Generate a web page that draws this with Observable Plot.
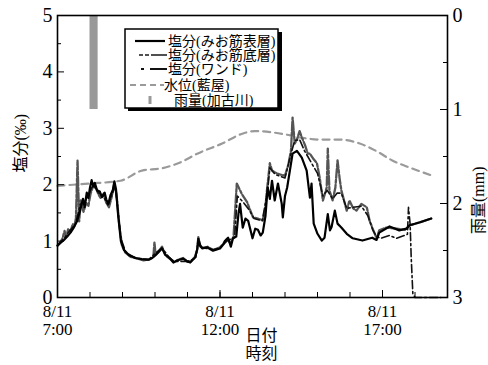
<!DOCTYPE html>
<html><head><meta charset="utf-8">
<script src="https://cdn.jsdelivr.net/npm/d3@7"></script>
<script src="https://cdn.jsdelivr.net/npm/@observablehq/plot@0.6"></script>
<style>
html,body{margin:0;padding:0;background:#fff;}
#wrap{position:relative;width:488px;height:365px;}
#wrap svg text{font-family:"Liberation Serif","Times New Roman","Noto Sans CJK JP",serif;}
#wrap svg text.cjk{font-family:"Noto Sans CJK JP",sans-serif;}
</style></head>
<body><div id="wrap"></div>
<script>
// ---- data (hours since midnight, 8/11) ----
const surfT = [7.00,7.10,7.20,7.30,7.40,7.50,7.60,7.70,7.78,7.84,7.90,7.95,8.00,8.05,8.10,8.15,8.22,8.30,8.36,8.45,8.50,8.56,8.63,8.70,8.75,8.80,8.87,8.95,9.05,9.20,9.40,9.60,9.80,9.92,10.00,10.10,10.22,10.32,10.45,10.56,10.70,10.87,11.00,11.08,11.23,11.30,11.33,11.38,11.45,11.60,11.79,12.00,12.10,12.15,12.25,12.33,12.40,12.50,12.56,12.61,12.70,12.78,12.86,13.00,13.08,13.17,13.25,13.32,13.40,13.47,13.54,13.60,13.69,13.78,13.90,13.93,14.00,14.06,14.15,14.24,14.36,14.52,14.67,14.76,14.82,14.88,15.00,15.13,15.22,15.31,15.38,15.44,15.53,15.62,15.74,15.90,16.08,16.39,16.69,16.82,16.90,17.21,17.52,17.74,17.83,18.13,18.50];
const surfV = [0.92,0.97,1.02,1.08,1.15,1.24,1.35,1.55,1.75,1.60,1.86,1.76,1.95,2.08,1.97,2.03,1.90,1.88,1.78,1.86,1.74,1.66,1.82,1.90,2.06,1.92,1.45,1.00,0.84,0.75,0.70,0.68,0.67,0.70,0.74,0.80,0.87,0.76,0.70,0.62,0.66,0.69,0.64,0.62,0.71,0.85,1.04,0.92,0.87,0.89,0.83,0.87,0.94,1.00,1.06,0.90,1.05,1.08,1.48,1.66,1.24,1.40,1.36,1.05,1.22,1.20,1.10,1.15,1.45,1.95,1.75,2.07,1.72,2.02,1.66,1.42,1.80,1.95,2.25,2.55,2.60,2.48,2.25,1.77,2.02,1.31,1.13,1.01,1.06,1.48,1.19,1.25,1.54,1.31,1.24,1.13,1.05,1.01,1.06,1.02,1.15,1.26,1.19,1.22,1.28,1.33,1.40];

const botT = [7.00,7.08,7.15,7.22,7.27,7.33,7.40,7.46,7.52,7.57,7.61,7.66,7.72,7.80,7.88,7.95,8.02,8.10,8.18,8.26,8.34,8.42,8.50,8.58,8.66,8.75,8.82,8.90,8.98,9.08,9.25,9.45,9.65,9.85,9.95,9.98,10.02,10.12,10.22,10.32,10.45,10.58,10.72,10.87,11.00,11.10,11.23,11.30,11.34,11.40,11.50,11.62,11.80,12.00,12.12,12.22,12.32,12.42,12.52,12.67,12.83,13.01,13.17,13.32,13.40,13.44,13.53,13.60,13.69,13.85,14.00,14.10,14.18,14.24,14.30,14.36,14.45,14.52,14.62,14.70,14.76,14.88,14.98,15.07,15.16,15.24,15.28,15.31,15.37,15.47,15.55,15.62,15.68,15.74,15.90,15.99,16.10,16.20,16.35,16.51,16.60,16.69,16.82,16.90,17.12,17.43,17.70,17.83,18.13,18.50];
const botV = [0.92,0.98,1.04,1.18,1.08,1.22,1.16,1.30,1.26,1.40,2.43,1.35,1.72,1.52,1.68,1.62,1.84,1.98,1.94,1.82,1.76,1.84,1.68,1.60,1.78,2.02,1.82,1.30,0.92,0.80,0.72,0.69,0.66,0.68,0.72,0.98,0.76,0.82,0.90,0.75,0.69,0.63,0.67,0.70,0.63,0.64,0.72,0.86,1.07,0.90,0.88,0.90,0.84,0.89,0.96,1.04,0.96,1.08,2.02,1.84,1.69,1.42,1.40,1.37,1.60,1.84,2.38,2.25,2.22,2.18,2.16,2.35,2.60,3.19,2.73,2.80,2.95,2.84,2.70,2.55,2.55,2.45,2.38,2.13,1.72,1.85,1.95,2.64,1.90,1.72,1.95,2.43,2.10,1.90,1.54,1.72,1.58,1.54,1.66,1.60,1.37,1.24,1.05,1.19,1.24,1.22,1.20,1.28,1.33,1.40];

const wandT = [7.00,7.20,7.40,7.55,7.62,7.70,7.85,8.00,8.10,8.25,8.40,8.55,8.70,8.76,8.85,8.95,9.10,9.40,9.80,10.00,10.22,10.45,10.60,11.00,11.25,11.34,11.45,11.80,12.00,12.25,12.45,12.54,12.70,12.90,13.05,13.30,13.46,13.54,13.70,14.00,14.18,14.30,14.45,14.60,14.80,15.00,15.16,15.30,15.47,15.60,15.74,15.90,16.10,16.35,16.55,16.70,16.82,16.95,17.21,17.43,17.67,17.76,17.80,17.85,17.89,17.93,18.00,18.80];
const wandV = [0.92,1.05,1.20,1.30,1.45,1.65,1.70,1.88,2.00,1.86,1.80,1.64,1.85,2.00,1.60,1.05,0.80,0.70,0.67,0.78,0.88,0.70,0.64,0.64,0.70,1.00,0.88,0.85,0.88,1.02,1.06,1.80,1.70,1.55,1.40,1.36,1.90,2.30,2.18,2.12,2.55,2.78,2.80,2.60,2.40,2.20,1.80,1.90,1.75,1.85,1.85,1.58,1.60,1.62,1.45,1.20,1.08,1.05,1.10,1.05,1.10,1.12,1.60,1.30,0.71,0.07,0.00,0.00];

const levelT = [7.0,7.95,8.93,9.6,10.2,10.8,11.3,12.06,12.67,13.07,13.93,14.45,15.07,15.68,16.3,16.8,17.3,17.9,18.53];
const levelV = [1.98,2.02,2.07,2.25,2.29,2.40,2.55,2.73,2.90,2.95,2.90,2.84,2.80,2.80,2.73,2.60,2.43,2.29,2.16];

const rainStart = [8.0];
const rainEnd = [8.25];
const rainMm = [1.0];

const yTicks = [0,1,2,3,4,5];
const rainTicks = [0,1,2,3];
const xLabelHours = [7,12,17];
const hourTicks = [7,8,9,10,11,12,13,14,15,16,17,18,19];
const legendLabels = ["塩分(みお筋表層)","塩分(みお筋底層)","塩分(ワンド)","水位(藍屋)","雨量(加古川)"];

// ---- helpers ----
const T = h => new Date(2000, 7, 11, 0, Math.round(h * 60));
const rainToY = r => 5 - r * 5 / 3;
const yToRain = y => (5 - y) * 3 / 5;
const series = (ts, vs) => ts.map((t, i) => ({t: T(t), v: vs[i]}));

const W = 488, H = 365, mL = 57, mR = 41, mT = 15, mB = 68;
const pw = W - mL - mR, ph = H - mT - mB;
const yMinor = d3.range(0.5, 5, 1);
const rainMinor = [0.5,1.5,2.5].map(rainToY);

const chart = Plot.plot({
  width: W, height: H,
  marginLeft: mL, marginRight: mR, marginTop: mT, marginBottom: mB,
  x: {type: "time", domain: [T(7), T(19)]},
  y: {domain: [0, 5]},
  style: {fontSize: "17px", color: "black", background: "white"},
  marks: [
    Plot.rectY(rainMm.map((m, i) => i), {x1: i => T(rainStart[i]), x2: i => T(rainEnd[i]), y1: () => rainToY(0), y2: i => rainToY(rainMm[i]), fill: "#999"}),
    Plot.line(series(levelT, levelV), {x: "t", y: "v", stroke: "#9a9a9a", strokeWidth: 2.2, strokeDasharray: "7,5", curve: "monotone-x"}),
    Plot.line(series(botT, botV), {x: "t", y: "v", stroke: "#555", strokeWidth: 2.3, strokeDasharray: "9,2,3,2"}),
    Plot.line(series(wandT, wandV), {x: "t", y: "v", stroke: "#111", strokeWidth: 1.6, strokeDasharray: "8,3,2,3"}),
    Plot.line(series(surfT, surfV), {x: "t", y: "v", stroke: "black", strokeWidth: 2.2}),
    // inward ticks
    Plot.tickY(yTicks, {y: d => d, insetRight: pw - 7, stroke: "black", strokeWidth: 1}),
    Plot.tickY(yMinor, {y: d => d, insetRight: pw - 4, stroke: "black", strokeWidth: 1}),
    Plot.tickY(rainTicks.map(rainToY), {y: d => d, insetLeft: pw - 7, stroke: "black", strokeWidth: 1}),
    Plot.tickY(rainMinor, {y: d => d, insetLeft: pw - 4, stroke: "black", strokeWidth: 1}),
    Plot.tickX(hourTicks.map(T), {x: d => d, insetTop: ph - 5, stroke: "black", strokeWidth: 1}),
    Plot.tickX(xLabelHours.map(T), {x: d => d, insetTop: ph - 7, stroke: "black", strokeWidth: 1}),
    Plot.frame({stroke: "black", strokeWidth: 1.6}),
    Plot.axisY({ticks: yTicks, tickFormat: d => String(d), tickSize: 0, tickPadding: 5, label: null, fontSize: 20}),
    Plot.axisY({anchor: "right", ticks: rainTicks.map(rainToY), tickFormat: d => String(Math.round(yToRain(d))), tickSize: 0, tickPadding: 5, label: null, fontSize: 20}),
    Plot.axisX({ticks: xLabelHours.map(T), tickFormat: d => `8/11\n${d.getHours()}:00`, tickSize: 0, tickPadding: 7, label: null, fontSize: 17, lineHeight: 1.05}),
    Plot.text(["日付\n時刻"], {frameAnchor: "bottom", dx: 9, dy: 31, lineAnchor: "top", fontSize: 16, lineHeight: 1.12, className: "cjk"}),
    Plot.text(["塩分(‰)"], {frameAnchor: "left", dx: -37, dy: 16, rotate: -90, fontSize: 16}),
    Plot.text(["雨量(mm)"], {frameAnchor: "right", dx: 31, dy: 10, rotate: -90, fontSize: 16})
  ]
});
const wrap = document.getElementById("wrap");
wrap.appendChild(chart);
d3.select(chart).selectAll("text").filter(function(){ return this.textContent.includes("日付"); }).attr("class", "cjk");

// ---- legend overlay ----
const ns = "http://www.w3.org/2000/svg";
const lg = document.createElementNS(ns, "svg");
lg.setAttribute("width", W); lg.setAttribute("height", H);
lg.setAttribute("style", "position:absolute;left:0;top:0;pointer-events:none");
const sel = d3.select(lg);
sel.append("rect").attr("x", 128).attr("y", 32).attr("width", 154).attr("height", 79).attr("fill", "black");
sel.append("rect").attr("x", 125).attr("y", 29).attr("width", 153).attr("height", 79).attr("fill", "white").attr("stroke", "black").attr("stroke-width", 1.5);
const rowsY = [41, 55, 69, 85, 100];
const samples = [
  {x1: 135, x2: 165, stroke: "black", w: 2.2, dash: null},
  {x1: 139, x2: 167, stroke: "#505050", w: 2.2, dash: "4,2,4,2,16"},
  {x1: 141, x2: 167, stroke: "#111", w: 2, dash: "3,6,20"},
  {x1: 130, x2: 164, stroke: "#9a9a9a", w: 2, dash: "6,4"},
];
samples.forEach((s, i) => {
  const l = sel.append("line").attr("x1", s.x1).attr("x2", s.x2).attr("y1", rowsY[i]).attr("y2", rowsY[i])
    .attr("stroke", s.stroke).attr("stroke-width", s.w);
  if (s.dash) l.attr("stroke-dasharray", s.dash);
});
sel.append("rect").attr("x", 148.5).attr("y", rowsY[4] - 4).attr("width", 3).attr("height", 8).attr("fill", "#999");
const textX = [168, 168, 168, 164, 174];
legendLabels.forEach((t, i) => {
  sel.append("text").attr("x", textX[i]).attr("y", rowsY[i]).attr("dy", "0.35em")
    .attr("font-size", 14).text(t);
});
wrap.appendChild(lg);
</script>
</body></html>
